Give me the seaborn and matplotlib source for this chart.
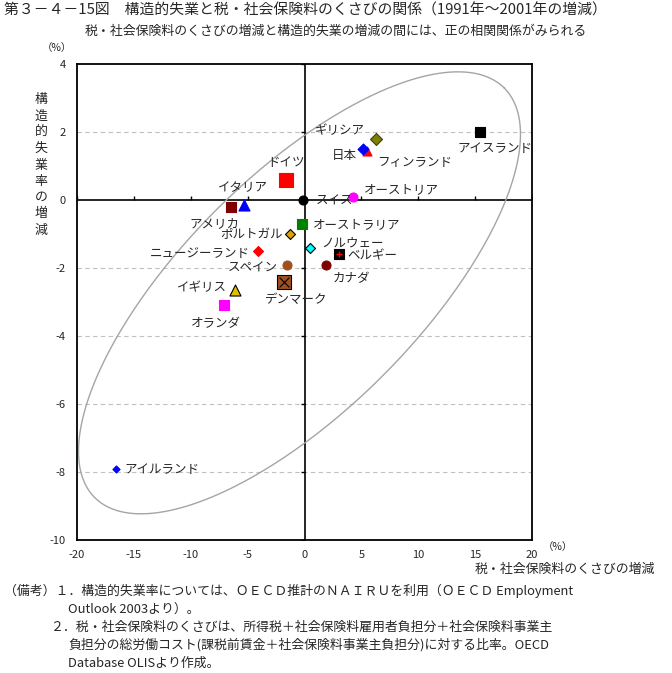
"""
構造的失業と税・社会保険料のくさびの関係（散布図）
"""

import numpy as np
import pandas as pd
import matplotlib
matplotlib.use("Agg")
import matplotlib.pyplot as plt
import seaborn as sns

# データ（1991年～2001年の増減, %）
countries = ["アイスランド", "ギリシア", "フィンランド", "日本", "ドイツ", "オーストリア",
             "スイス", "イタリア", "アメリカ", "オーストラリア", "ポルトガル", "ノルウェー",
             "ニュージーランド", "ベルギー", "スペイン", "カナダ", "デンマーク", "イギリス",
             "オランダ", "アイルランド"]
wedge_change = [15.4, 6.3, 5.5, 5.1, -1.6, 4.3, -0.1, -5.3, -6.5, -0.2, -1.3, 0.5,
                -4.1, 3.0, -1.5, 1.9, -1.8, -6.1, -7.1, -16.6]
unemp_change = [2.0, 1.8, 1.45, 1.5, 0.6, 0.1, 0.0, -0.15, -0.2, -0.7, -1.0, -1.4,
                -1.5, -1.6, -1.9, -1.9, -2.4, -2.65, -3.1, -7.9]

x_ticks = [-20, -15, -10, -5, 0, 5, 10, 15, 20]
y_ticks = [4, 2, 0, -2, -4, -6, -8, -10]
y_grid = [2, -2, -4, -6, -8]

df = pd.DataFrame({"国": countries, "くさび": wedge_change, "失業": unemp_change})

# マーカー: (形, 色, 枠色, サイズ)
styles = {
    "アイスランド": ("s", "#000000", "#000000", 42),
    "ギリシア": ("D", "#808000", "#404000", 37),
    "フィンランド": ("^", "#FF0000", "#FF0000", 42),
    "日本": ("D", "#0000FF", "#0000FF", 31),
    "ドイツ": ("s", "#FF0000", "#FF0000", 88),
    "オーストリア": ("o", "#FF00FF", "#FF00FF", 42),
    "スイス": ("o", "#000000", "#000000", 42),
    "イタリア": ("^", "#0000FF", "#0000FF", 63),
    "アメリカ": ("s", "#800000", "#800000", 52),
    "オーストラリア": ("s", "#008000", "#008000", 52),
    "ポルトガル": ("D", "#E0A000", "#000000", 26),
    "ノルウェー": ("D", "#00FFFF", "#000000", 26),
    "ニュージーランド": ("D", "#FF0000", "#FF0000", 26),
    "ベルギー": ("s", "#000000", "#000000", 42),
    "スペイン": ("o", "#A0501E", "#A0501E", 42),
    "カナダ": ("o", "#800000", "#800000", 42),
    "デンマーク": ("s", "#A0501E", "#000000", 88),
    "イギリス": ("^", "#E0C000", "#000000", 63),
    "オランダ": ("s", "#FF00FF", "#FF00FF", 52),
    "アイルランド": ("D", "#0000FF", "#0000FF", 13),
}

# ラベル位置（点からのずれ, ピクセル）
label_pos = {
    "アイスランド": (15, -16, "center"),
    "ギリシア": (-11, 8, "right"),
    "フィンランド": (10, -12, "left"),
    "日本": (-6, -6, "right"),
    "ドイツ": (0, 17, "center"),
    "オーストリア": (10, 7, "left"),
    "スイス": (12, -1, "left"),
    "イタリア": (-1, 18, "center"),
    "アメリカ": (-16, -17, "center"),
    "オーストラリア": (11, -1, "left"),
    "ポルトガル": (-7, -1, "right"),
    "ノルウェー": (11, 5, "left"),
    "ニュージーランド": (-8, -2, "right"),
    "ベルギー": (9, -1, "left"),
    "スペイン": (-10, -4, "right"),
    "カナダ": (7, -14, "left"),
    "デンマーク": (12, -18, "center"),
    "イギリス": (-8, 2, "right"),
    "オランダ": (-8, -18, "center"),
    "アイルランド": (9, -1, "left"),
}

sns.set_style("white")
plt.rcParams['font.family'] = ['Noto Sans CJK JP', 'DejaVu Sans']
plt.rcParams['axes.unicode_minus'] = False

W, H = 672, 673
fig = plt.figure(figsize=(W / 100, H / 100), dpi=100)
ax = fig.add_axes([77 / W, 1 - 540 / H, 455 / W, 476 / H])

ax.set_xlim(-20, 20)
ax.set_ylim(-10, 4)

# 補助線
for yv in y_grid:
    ax.axhline(yv, color="#c0c0c0", lw=0.8, ls=(0, (4, 3)), zorder=0)
ax.axhline(0, color="black", lw=1.2, zorder=1)
ax.axvline(0, color="black", lw=1.2, zorder=1)
ax.plot(x_ticks, [0] * len(x_ticks), ls="none", marker=2, ms=3, color="black", mew=1)
ax.plot([0] * len(y_ticks), y_ticks, ls="none", marker=0, ms=3, color="black", mew=1)

# 楕円（相関の目安）
t = np.linspace(0, 2 * np.pi, 400)
a_px, b_px, ang = 289.6, 117.5, np.deg2rad(45)
cx, cy = -0.44, -2.73
sx, sy = 455 / 40, 476 / 14
ex = cx + (a_px * np.cos(t) * np.cos(ang) - b_px * np.sin(t) * np.sin(ang)) / sx
ey = cy + (a_px * np.cos(t) * np.sin(ang) + b_px * np.sin(t) * np.cos(ang)) / sy
ax.plot(ex, ey, color="#a0a8a0", lw=1.0, zorder=1)

# 散布図
for _, row in df.iterrows():
    m, c, ec, s = styles[row["国"]]
    sns.scatterplot(x=[row["くさび"]], y=[row["失業"]], marker=m, color=c,
                    edgecolor=ec, linewidth=0.8, s=s, ax=ax, zorder=3)
    dx, dy, ha = label_pos[row["国"]]
    ax.annotate(row["国"], (row["くさび"], row["失業"]), xytext=(dx, dy),
                textcoords="offset pixels", ha=ha, va="center", fontsize=9, zorder=4)

# ベルギーとデンマークの記号
bel = df[df["国"] == "ベルギー"]
sns.scatterplot(x=bel["くさび"], y=bel["失業"], marker="+", color="red", s=14,
                linewidth=1, ax=ax, zorder=5)
den = df[df["国"] == "デンマーク"]
sns.scatterplot(x=den["くさび"], y=den["失業"], marker="x", color="black", s=50,
                linewidth=0.8, ax=ax, zorder=5)

ax.set_xticks(x_ticks)
ax.set_yticks(y_ticks)
ax.tick_params(length=0, labelsize=8)
ax.tick_params(axis="x", pad=7)
ax.tick_params(axis="y", pad=8)
ax.set_xlabel("")
ax.set_ylabel("")
for sp in ax.spines.values():
    sp.set_color("black")
    sp.set_linewidth(1.3)

# タイトル類
fig.text(4 / W, 1 - 10 / H, "第３－４－15図　構造的失業と税・社会保険料のくさびの関係（1991年～2001年の増減）",
         ha="left", va="center", fontsize=10.7)
fig.text(0.5, 1 - 31 / H, "税・社会保険料のくさびの増減と構造的失業の増減の間には、正の相関関係がみられる",
         ha="center", va="center", fontsize=9.3)
fig.text(57 / W, 1 - 48 / H, "（%）", ha="center", va="center", fontsize=7.5)
fig.text(558 / W, 1 - 547 / H, "（%）", ha="center", va="center", fontsize=7.5)
fig.text(655 / W, 1 - 569 / H, "税・社会保険料のくさびの増減", ha="right", va="center", fontsize=9.3)

ylabel = "構造的失業率の増減"
for i, ch in enumerate(ylabel):
    fig.text(41 / W, 1 - (100 + 16.25 * i) / H, ch, ha="center", va="center", fontsize=9.3)

notes = [
    (4, "（備考）１．構造的失業率については、ＯＥＣＤ推計のＮＡＩＲＵを利用（ＯＥＣＤ Employment"),
    (68, "Outlook 2003より）。"),
    (50, "２．税・社会保険料のくさびは、所得税＋社会保険料雇用者負担分＋社会保険料事業主"),
    (68, "負担分の総労働コスト(課税前賃金＋社会保険料事業主負担分)に対する比率。OECD"),
    (68, "Database OLISより作成。"),
]
for i, (xp, line) in enumerate(notes):
    fig.text(xp / W, 1 - (591 + 18 * i) / H, line, ha="left", va="center", fontsize=9.3)

fig.savefig("out.png", dpi=100)
